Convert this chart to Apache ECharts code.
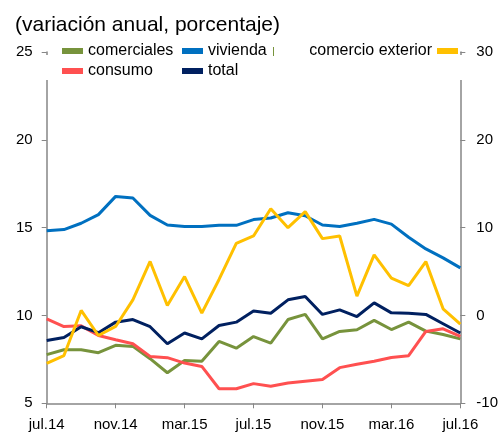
<!DOCTYPE html>
<html>
<head>
<meta charset="utf-8">
<script src="https://cdn.jsdelivr.net/npm/echarts@6/dist/echarts.min.js"></script>
<style>
  html, body { margin: 0; padding: 0; background: #fff; }
  #chart { width: 501px; height: 433px; }
</style>
</head>
<body>
<div id="chart"></div>
<script>
const months = ['jul.14', 'ago.14', 'sep.14', 'oct.14', 'nov.14', 'dic.14', 'ene.15', 'feb.15', 'mar.15',
  'abr.15', 'may.15', 'jun.15', 'jul.15', 'ago.15', 'sep.15', 'oct.15', 'nov.15', 'dic.15', 'ene.16',
  'feb.16', 'mar.16', 'abr.16', 'may.16', 'jun.16', 'jul.16'];

const comerciales = [7.77, 8.05, 8.05, 7.88, 8.3, 8.24, 7.54, 6.74, 7.44, 7.39, 8.52, 8.14, 8.8,
  8.43, 9.77, 10.06, 8.67, 9.09, 9.19, 9.72, 9.2, 9.62, 9.11, 8.92, 8.67];
const vivienda = [14.83, 14.89, 15.25, 15.74, 16.78, 16.69, 15.7, 15.15, 15.06, 15.06, 15.13, 15.13, 15.46,
  15.55, 15.85, 15.68, 15.15, 15.06, 15.25, 15.47, 15.2, 14.45, 13.79, 13.28, 12.71];
const consumo = [9.81, 9.37, 9.41, 8.86, 8.62, 8.39, 7.67, 7.6, 7.29, 7.1, 5.83, 5.83, 6.12,
  5.97, 6.15, 6.25, 6.35, 7.03, 7.22, 7.39, 7.61, 7.71, 9.09, 9.24, 8.81];
const total = [8.58, 8.75, 9.36, 9.02, 9.62, 9.77, 9.36, 8.39, 9.0, 8.67, 9.43, 9.62, 10.25,
  10.13, 10.89, 11.08, 10.06, 10.32, 9.94, 10.72, 10.15, 10.13, 10.06, 9.53, 9.0];
// eje derecho
const comercioExterior = [-5.45, -4.56, 0.57, -2.28, -1.25, 1.78, 6.15, 1.14, 4.43, 0.27, 4.1, 8.22, 9.05,
  12.15, 10.0, 11.82, 8.75, 9.05, 2.2, 6.9, 4.26, 3.39, 6.13, 0.76, -0.98];

const font = 'Liberation Sans, Arial, sans-serif';
const axisGray = '#868686';

const legendBase = {
  orient: 'horizontal',
  padding: 0,
  itemWidth: 21,
  itemHeight: 6,
  icon: 'rect',
  textStyle: { fontFamily: font, fontSize: 16, color: '#000' },
  selectedMode: false,
  z: 10,
};

const mkLine = (name, data, color, yIdx) => ({
  name: name,
  type: 'line',
  data: data,
  yAxisIndex: yIdx,
  showSymbol: false,
  symbol: 'none',
  lineStyle: { color: color, width: 3 },
  itemStyle: { color: color },
});

const option = {
  animation: false,
  title: {
    text: '(variación anual, porcentaje)',
    left: 10,
    top: 10,
    textStyle: { fontFamily: font, fontSize: 21, fontWeight: 'normal', color: '#000' },
  },
  legend: [
    Object.assign({}, legendBase, { data: ['comerciales'], left: 62, top: 43 }),
    Object.assign({}, legendBase, { data: ['vivienda'], left: 182, top: 43 }),
    Object.assign({}, legendBase, { data: ['comercio exterior'], right: 43, top: 43, align: 'right' }),
    Object.assign({}, legendBase, { data: ['consumo'], left: 62, top: 63 }),
    Object.assign({}, legendBase, { data: ['total'], left: 182, top: 63 }),
  ],
  graphic: [
    { type: 'rect', shape: { x: 40, y: 55, width: 430, height: 25 }, style: { fill: '#fff' }, z: 5 },
    { type: 'line', shape: { x1: 273.5, y1: 47, x2: 273.5, y2: 56 }, style: { stroke: '#77933C', lineWidth: 1 }, z: 11 },
  ],
  grid: { left: 46.7, right: 37.6, top: 52, bottom: 29.7 },
  xAxis: {
    type: 'category',
    data: months,
    boundaryGap: false,
    axisLine: { onZero: false, lineStyle: { color: axisGray, width: 1.5 } },
    axisTick: { interval: 3, length: 5, lineStyle: { color: axisGray } },
    axisLabel: { interval: 3, margin: 14, fontFamily: font, fontSize: 15, color: '#000' },
    splitLine: { show: false },
  },
  yAxis: [
    {
      type: 'value',
      min: 5, max: 25, interval: 5,
      axisLine: { show: true, lineStyle: { color: axisGray, width: 1.5 } },
      axisTick: { show: true, length: 5, lineStyle: { color: axisGray } },
      axisLabel: { margin: 14, fontFamily: font, fontSize: 15, color: '#000' },
      splitLine: { show: false },
    },
    {
      type: 'value',
      min: -10, max: 30, interval: 10,
      position: 'right',
      axisLine: { show: true, lineStyle: { color: axisGray, width: 1.5 } },
      axisTick: { show: true, length: 5, lineStyle: { color: axisGray } },
      axisLabel: { margin: 16, fontFamily: font, fontSize: 15, color: '#000' },
      splitLine: { show: false },
    },
  ],
  series: [
    mkLine('comerciales', comerciales, '#77933C', 0),
    mkLine('vivienda', vivienda, '#0070C0', 0),
    mkLine('consumo', consumo, '#FF5050', 0),
    mkLine('total', total, '#002060', 0),
    mkLine('comercio exterior', comercioExterior, '#FFC000', 1),
  ],
};

const chart = echarts.init(document.getElementById('chart'));
chart.setOption(option);
</script>
</body>
</html>
